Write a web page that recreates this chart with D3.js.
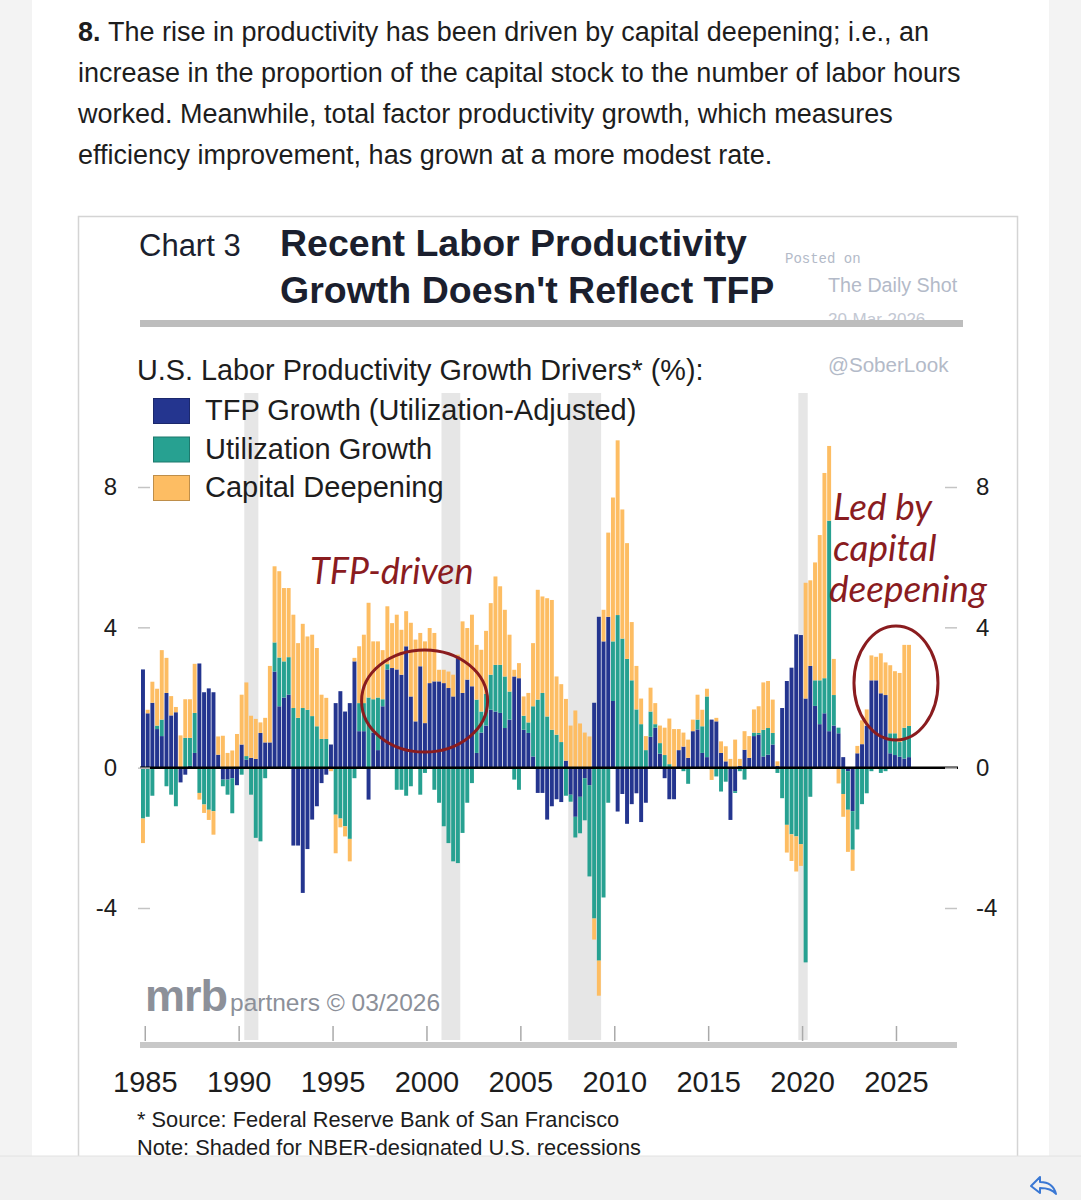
<!DOCTYPE html>
<html>
<head>
<meta charset="utf-8">
<script src="https://cdn.jsdelivr.net/npm/d3@7"></script>
<style>
html, body { margin: 0; padding: 0; background: #fff; }
svg { display: block; }
</style>
</head>
<body>
<script>
const W = 1081, H = 1200;

// quarterly categories 1985Q1 .. 2025Q4
const quarters = [];
for (let yr = 1985; yr <= 2025; yr++) for (let q = 1; q <= 4; q++) quarters.push(yr + "Q" + q);

// one line per year (Q1..Q4)
const tfpGrowth = [
  2.8, 1.55, 1.85, 1.1,
  0.9, 2.13, 1.49, 1.58,
  -0.42, -0.2, 0.05, 0.42,
  2.97, 2.15, 2.26, 2.15,
  0.37, -0.34, -0.34, -0.3,
  -0.5, 0.66, 0.23, 0.28,
  0.25, 0.99, 0.72, 0.72,
  2.74, 1.75, 2.0, 2.08,
  -2.22, -2.22, -3.57, -2.32,
  -1.48, -1.1, -0.44, -0.2,
  0.66, 1.84, 2.18, 1.6,
  1.84, 3.03, 1.04, 1.04,
  -0.91, 1.0, 0.5, 1.75,
  2.8, 2.84, 2.8, 2.65,
  3.46, 2.03, 1.32, 2.89,
  1.27, 2.41, 2.46, 2.46,
  2.41, 2.27, 2.03, 3.17,
  2.13, 2.51, 2.32, 0.42,
  1.0, 1.2, 1.65, 1.6,
  1.56, 1.13, 1.37, 2.6,
  2.55, 1.08, 0.99, 0.32,
  -0.72, -0.72, -1.48, -1.1,
  -0.9, -0.98, 0.2, -0.77,
  -1.4, -0.83, -0.3, -0.5,
  1.85, 4.3, 3.6, 4.3,
  1.9, -1.25, -0.75, -1.6,
  -1.04, -0.73, -1.55, -1.0,
  0.88, 1.14, 0.4, -0.3,
  -0.9, -0.9, 0.5, 0.6,
  0.28, 1.04, 1.09, 0.42,
  0.3, 1.37, 1.32, 0.42,
  0.18, -1.49, -0.67, 0.05,
  0.51, 0.28, 0.9, 0.94,
  0.32, 0.37, 0.66, 0.05,
  1.7, 2.47, 2.85, 3.8,
  3.78, 1.97, 2.9, 1.76,
  1.24, 1.55, 1.04, 1.2,
  0.98, 0.3, -0.1, -1.24,
  0.41, 0.67, 1.2, 2.49,
  2.49, 2.12, 2.07, 0.41,
  0.36, 0.31, 0.26, 0.3
];
const utilizationGrowth = [
  -1.45, -1.4, -0.8, 0.1,
  0.47, -0.53, -0.77, -1.1,
  0, 0.85, 0.8, 1.14,
  -0.72, -1.05, -1.2, -1.24,
  0, -0.19, -0.43, -1.0,
  0, -0.2, 0.1, -0.77,
  -2.0, -2.1, -0.3, 0,
  0.83, 1.39, 1.03, 1.07,
  1.7, 1.42, 1.7, 1.65,
  1.47, 1.18, 0.82, 0.82,
  0, -1.34, -1.45, -1.67,
  -2.03, -0.3, 0.8, 0.8,
  2.0, 0.95, 1.5, 0.2,
  0.15, 0, -0.63, -0.63,
  -0.8, -0.53, 0, -0.77,
  -0.15, 0, -0.63, -1.0,
  -1.67, -2.15, -2.67, -2.72,
  -1.86, -1.0, -0.44, 1.52,
  0.6, 0.9, 1.0, 1.33,
  1.37, 1.47, 0.8, -0.34,
  -0.63, 0.4, 0.3, 1.43,
  1.94, 2.13, 1.46, 1.08,
  0.94, 0.73, -0.8, -0.2,
  -0.59, -1.04, -1.2, -2.6,
  -4.3, -5.5, -3.7, -1.0,
  1.7, 4.35, 3.68, 3.1,
  2.49, 1.66, 1.24, 0.5,
  0.72, 0.1, 0.3, 0.36,
  0.1, 0, 0, -0.1,
  -0.46, 0, 0.28, 0.76,
  1.73, -0.05, -0.25, -0.68,
  -0.4, 0, -0.05, -0.1,
  -0.34, 0, 0.1, 0.05,
  0.76, 0.76, 0.33, -0.15,
  -0.87, -1.63, -1.9, -1.96,
  -2.18, -5.55, -0.83, 0.73,
  1.25, 1.0, 6.0, 0.87,
  0.16, -0.75, -1.1, -1.1,
  -1.76, -1.04, -0.73, -0.1,
  0, -0.15, -0.1, 0.57,
  0.62, 0.42, 0.88, 0.89
];
const capitalDeepening = [
  -0.7, 0.1, 0.6, 1.05,
  1.98, 1.0, 0.55, 0.15,
  0.92, 1.1, 1.1, 1.4,
  -0.19, -0.24, -0.29, -0.67,
  0.52, 0.91, 0.42, 0.49,
  0.96, 1.42, 2.1, 1.2,
  1.14, 0.3, 0.7, 2.18,
  2.17, 2.46, 2.09, 1.97,
  2.66, 2.13, 2.4, 2.09,
  2.32, 2.23, 1.26, 1.17,
  -0.1, -1.1, -0.25, -0.29,
  -0.64, 0.1, 1.62, 1.95,
  2.7, 1.65, 1.6, 1.4,
  1.65, 1.28, 1.56, 1.28,
  1.0, 2.1, 2.33, 0.95,
  2.33, 1.57, 1.38, 0.33,
  0.38, 0.47, 0.62, 0.05,
  2.04, 1.47, 2.04, 1.56,
  1.76, 1.8, 2.04, 2.52,
  2.24, 1.9, 1.62, 0.19,
  0.43, 0.55, 0.84, 1.8,
  3.13, 2.75, 3.37, 3.7,
  1.66, 1.65, 1.76, 1.2,
  1.63, 1.26, 1.0, 0.89,
  -0.6, -1.0, 0.9, 2.4,
  4.1, 4.98, 3.68, 3.3,
  1.66, 1.24, 0.73, 0.4,
  0.68, 0.6, 0.5, 0.78,
  1.3, 1.1, 0.6, 0.4,
  0.52, 0.33, 0.71, 0.47,
  0.22, -0.3, 0.1, 0.33,
  0.43, 0.25, 0.8, 0.2,
  0.53, 0.62, 0.66, 0.76,
  1.35, 1.34, 0.95, 0.13,
  0, -0.79, -0.76, -1.0,
  -0.62, 3.3, 2.44, 3.36,
  4.14, 5.85, 2.13, 1.03,
  -0.45, -0.65, -1.2, -0.6,
  0.21, 0.68, 0.46, 0.71,
  0.67, 1.14, 0.93, 1.94,
  1.77, 1.97, 2.36, 2.31
];

const recessions = [["1990Q3", "1991Q1"], ["2001Q1", "2001Q4"], ["2007Q4", "2009Q2"], ["2020Q1", "2020Q2"]];
const yearTicks = [1985, 1990, 1995, 2000, 2005, 2010, 2015, 2020, 2025];
const yTicks = [8, 4, 0, -4];
const seriesKeys = ["tfp", "util", "cap"];
const seriesNames = ["TFP Growth (Utilization-Adjusted)", "Utilization Growth", "Capital Deepening"];
const seriesColors = ["#24358f", "#27a191", "#fdbd63"];

const paragraph = [
  "The rise in productivity has been driven by capital deepening; i.e., an",
  "increase in the proportion of the capital stock to the number of labor hours",
  "worked. Meanwhile, total factor productivity growth, which measures",
  "efficiency improvement, has grown at a more modest rate."
];

const SANS = "'Liberation Sans', Arial, Helvetica, sans-serif";
const RED = "#8a1c1f";

const svg = d3.select("body").append("svg")
  .attr("width", W).attr("height", H)
  .attr("font-family", SANS);

// page
svg.append("rect").attr("width", W).attr("height", H).attr("fill", "#f3f3f3");
svg.append("rect").attr("x", 32).attr("width", 1017).attr("height", H).attr("fill", "#fff");

// intro text
paragraph.forEach((line, i) => {
  const t = svg.append("text")
    .attr("x", 78).attr("y", 41 + i * 41)
    .attr("font-size", 27).attr("fill", "#1d1d1d");
  if (i == 0) t.append("tspan").attr("font-weight", "bold").text("8. ");
  t.append("tspan").text(line);
});

// chart frame
svg.append("rect").attr("x", 78.5).attr("y", 216.5).attr("width", 939).attr("height", 990)
  .attr("fill", "#fff").attr("stroke", "#d4d4d4").attr("stroke-width", 1.5);

// scales
const x = d3.scaleBand().domain(quarters).range([141, 911]).paddingInner(0.16);
const xYear = d3.scaleLinear().domain([1985, 2026]).range([141, 911]);
const y = d3.scaleLinear().domain([-4, 8]).range([908, 487]);
const qPos = q => +q.slice(0, 4) + (+q.slice(5) - 1) / 4;

// recession shading
svg.append("g").selectAll("rect")
  .data(recessions)
  .enter()
  .append("rect")
  .attr("x", d => xYear(qPos(d[0])))
  .attr("width", d => xYear(qPos(d[1]) + 0.25) - xYear(qPos(d[0])))
  .attr("y", 393)
  .attr("height", 1040 - 393)
  .attr("fill", "#e6e6e6");

// header
svg.append("text").attr("x", 139).attr("y", 256).attr("font-size", 31).attr("fill", "#1b1f2e").text("Chart 3");
svg.append("text").attr("x", 280).attr("y", 256).attr("font-size", 37.5).attr("font-weight", "bold")
  .attr("fill", "#1b1f2e").text("Recent Labor Productivity");
svg.append("text").attr("x", 280).attr("y", 303).attr("font-size", 37.5).attr("font-weight", "bold")
  .attr("fill", "#1b1f2e").text("Growth Doesn't Reflect TFP");

// watermark
svg.append("text").attr("x", 785).attr("y", 263).attr("font-size", 14)
  .attr("font-family", "'Liberation Mono', 'DejaVu Sans Mono', monospace").attr("fill", "#b3bac8").text("Posted on");
svg.append("text").attr("x", 828).attr("y", 292).attr("font-size", 19.7).attr("fill", "#b3bac8").text("The Daily Shot");
svg.append("text").attr("x", 828).attr("y", 325).attr("font-size", 17).attr("fill", "#c3c8d3").text("20-Mar-2026");
svg.append("rect").attr("x", 140).attr("y", 320).attr("width", 823).attr("height", 7).attr("fill", "#bdbdbd");
svg.append("text").attr("x", 828).attr("y", 372).attr("font-size", 20.6).attr("fill", "#b3bac8").text("@SoberLook");

// legend
svg.append("text").attr("x", 137).attr("y", 380).attr("font-size", 28.8).attr("fill", "#1d1d1d")
  .text("U.S. Labor Productivity Growth Drivers* (%):");
const legend = svg.append("g").selectAll("g")
  .data(seriesNames)
  .enter()
  .append("g")
  .attr("transform", (d, i) => "translate(0," + (i * 38.5) + ")");
legend.append("rect")
  .attr("x", 153.5).attr("y", 398.5).attr("width", 36).attr("height", 25)
  .attr("fill", (d, i) => seriesColors[i])
  .attr("stroke", (d, i) => d3.color(seriesColors[i]).darker(0.8))
  .attr("stroke-width", 1);
legend.append("text")
  .attr("x", 205).attr("y", 420).attr("font-size", 29).attr("fill", "#1d1d1d")
  .text(d => d);

// bars
const rows = quarters.map((q, i) => ({ q: q, tfp: tfpGrowth[i], util: utilizationGrowth[i], cap: capitalDeepening[i] }));
const stacked = d3.stack().keys(seriesKeys).offset(d3.stackOffsetDiverging)(rows);

svg.append("g").selectAll("g")
  .data(stacked)
  .enter()
  .append("g")
  .attr("fill", (d, i) => seriesColors[i])
  .selectAll("rect")
  .data(d => d)
  .enter()
  .append("rect")
  .attr("x", d => x(d.data.q))
  .attr("width", x.bandwidth())
  .attr("y", d => y(Math.max(d[0], d[1])))
  .attr("height", d => Math.abs(y(d[0]) - y(d[1])));

// zero line
svg.append("line").attr("x1", 140).attr("x2", 958).attr("y1", y(0)).attr("y2", y(0))
  .attr("stroke", "#000").attr("stroke-width", 2.5);

// y axes
const leftAxis = svg.append("g").attr("transform", "translate(150,0)")
  .call(d3.axisLeft(y).tickValues(yTicks).tickSize(12).tickPadding(21).tickFormat(d => String(d)));
const rightAxis = svg.append("g").attr("transform", "translate(945,0)")
  .call(d3.axisRight(y).tickValues(yTicks).tickSize(12).tickPadding(19).tickFormat(d => String(d)));
[leftAxis, rightAxis].forEach(a => {
  a.select(".domain").remove();
  a.selectAll(".tick line").attr("stroke", "#c4c4c4").attr("stroke-width", 1.5);
  a.selectAll(".tick text").attr("font-size", 24).attr("font-family", SANS).attr("fill", "#1d1d1d");
});

// x axis
svg.append("rect").attr("x", 140).attr("y", 1042).attr("width", 817).attr("height", 6).attr("fill", "#c8c8c8");
const bottomAxis = svg.append("g").attr("transform", "translate(0,1041)")
  .call(d3.axisBottom(d3.scaleLinear().domain(xYear.domain()).range(xYear.range()))
    .tickValues(yearTicks.map(v => v + 0.2)).tickSize(-15).tickPadding(30)
    .tickFormat(d => Math.round(d - 0.2)));
bottomAxis.select(".domain").remove();
bottomAxis.selectAll(".tick line").attr("stroke", "#aaa").attr("stroke-width", 1.5);
bottomAxis.selectAll(".tick text").attr("font-size", 29).attr("font-family", SANS).attr("fill", "#1d1d1d");

// mrb logo
const logo = svg.append("text").attr("x", 145).attr("y", 1011).attr("fill", "#8c9099");
logo.append("tspan").attr("font-size", 45).attr("font-weight", "bold").attr("letter-spacing", -1).text("mrb");
logo.append("tspan").attr("font-size", 24.5).attr("dx", 3).text("partners © 03/2026");

// annotations
const ANNOT = "Lato, 'Open Sans', sans-serif";
svg.append("text").attr("x", 310).attr("y", 584).attr("font-family", ANNOT).attr("font-style", "italic")
  .attr("font-size", 36).attr("fill", RED).text("TFP-driven");
svg.append("ellipse").attr("cx", xYear(2000.1)).attr("cy", 701).attr("rx", 63).attr("ry", 51)
  .attr("fill", "none").attr("stroke", RED).attr("stroke-width", 3);
["Led by", "capital", "deepening"].forEach((s, i) => {
  svg.append("text").attr("x", i == 2 ? 829 : 833).attr("y", 520 + i * 41)
    .attr("font-family", ANNOT).attr("font-style", "italic").attr("font-size", 37)
    .attr("fill", RED).text(s);
});
svg.append("ellipse").attr("cx", xYear(2025.2)).attr("cy", 683).attr("rx", 42).attr("ry", 57)
  .attr("fill", "none").attr("stroke", RED).attr("stroke-width", 3);

// footnotes
svg.append("text").attr("x", 137).attr("y", 1127).attr("font-size", 21.8).attr("fill", "#1d1d1d")
  .text("* Source: Federal Reserve Bank of San Francisco");
svg.append("text").attr("x", 137).attr("y", 1155).attr("font-size", 21.8).attr("fill", "#1d1d1d")
  .text("Note: Shaded for NBER-designated U.S. recessions");

// bottom bar
svg.append("rect").attr("y", 1156).attr("width", W).attr("height", H - 1156).attr("fill", "#f1f1f1");
svg.append("line").attr("x1", 0).attr("x2", W).attr("y1", 1156).attr("y2", 1156).attr("stroke", "#e2e2e2");
svg.append("path")
  .attr("d", "M1031,1186 l9,-9 v5 c8,0 14,4 16,12 c-4,-5 -9,-6 -16,-6 v5 z")
  .attr("fill", "none").attr("stroke", "#3a78d4").attr("stroke-width", 2).attr("stroke-linejoin", "round");
</script>
</body>
</html>
